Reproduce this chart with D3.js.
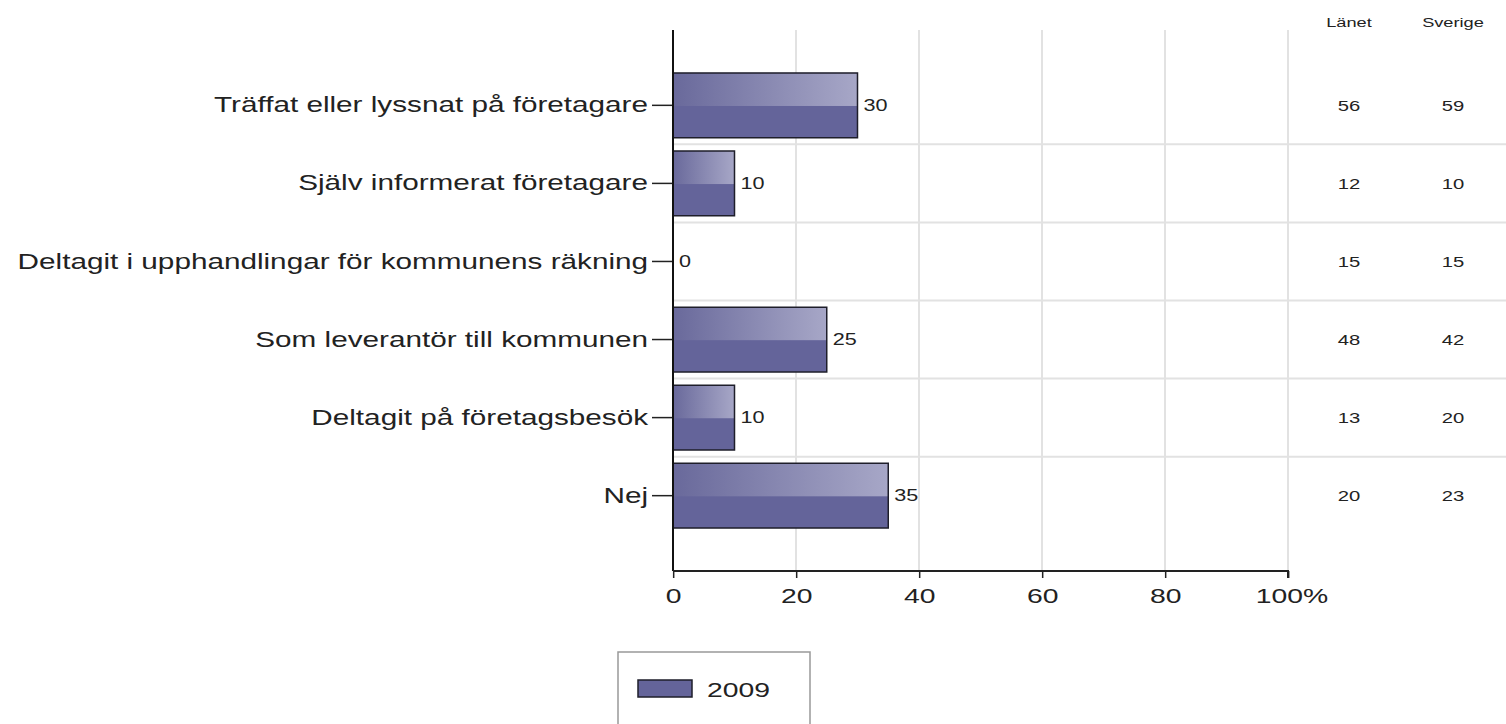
<!doctype html>
<html lang="sv">
<head>
<meta charset="utf-8">
<title>Kontakter med företagare</title>
<script src="https://d3js.org/d3.v7.min.js"></script>
<style>
  html, body { margin: 0; padding: 0; background: #fff; }
  svg { display: block; }
  svg text { font-family: "Liberation Sans", Arial, Helvetica, sans-serif; fill: #222; }
  .line { vector-effect: non-scaling-stroke; }
</style>
</head>
<body>
<div id="chart"></div>
<script>
  // data
  const categories = [
    "Träffat eller lyssnat på företagare",
    "Själv informerat företagare",
    "Deltagit i upphandlingar för kommunens räkning",
    "Som leverantör till kommunen",
    "Deltagit på företagsbesök",
    "Nej"
  ];
  const values2009 = [30, 10, 0, 25, 10, 35];
  const lanet = [56, 12, 15, 48, 13, 20];
  const sverige = [59, 10, 15, 42, 20, 23];
  const xTicks = [0, 20, 40, 60, 80, 100];
  const seriesName = "2009";

  // the reference is stretched sideways, so draw in a narrower box and stretch it
  const W = 1506, H = 724, sx = 1.35;
  const vw = W / sx;
  const px = v => v / sx;   // screen px -> viewBox x

  const svg = d3.select("#chart").append("svg")
    .attr("width", W).attr("height", H)
    .attr("viewBox", "0 0 " + vw + " " + H)
    .attr("preserveAspectRatio", "none");

  const defs = svg.append("defs");
  const grad = defs.append("linearGradient").attr("id", "shine")
    .attr("x1", "0%").attr("x2", "100%").attr("y1", "0%").attr("y2", "0%");
  grad.append("stop").attr("offset", "0%").attr("stop-color", "#69699b");
  grad.append("stop").attr("offset", "100%").attr("stop-color", "#a7a7c7");

  const x = d3.scaleLinear().domain([0, 100]).range([px(673), px(1288)]);
  const y = d3.scaleBand().domain(categories).range([30, 571])
    .paddingInner(0.17).paddingOuter(0.55);
  const gap = (y.step() - y.bandwidth()) / 2;

  // vertical grid
  svg.append("g").selectAll("line").data(xTicks.slice(1)).join("line")
    .attr("class", "line")
    .attr("x1", d => x(d)).attr("x2", d => x(d))
    .attr("y1", 30).attr("y2", 571)
    .attr("stroke", "#e2e2e2").attr("stroke-width", 2);

  // horizontal grid between rows
  svg.append("g").selectAll("line").data(categories.slice(1)).join("line")
    .attr("class", "line")
    .attr("x1", x(0)).attr("x2", vw)
    .attr("y1", d => y(d) - gap).attr("y2", d => y(d) - gap)
    .attr("stroke", "#e2e2e2").attr("stroke-width", 2);

  // bars
  const bars = svg.append("g").selectAll("g").data(categories).join("g");
  bars.append("rect")
    .attr("x", x(0)).attr("y", d => y(d))
    .attr("width", (d, i) => x(values2009[i]) - x(0))
    .attr("height", y.bandwidth())
    .attr("fill", "#64649a");
  bars.append("rect")
    .attr("x", x(0)).attr("y", d => y(d))
    .attr("width", (d, i) => x(values2009[i]) - x(0))
    .attr("height", y.bandwidth() * 0.51)
    .attr("fill", "url(#shine)");
  bars.append("rect")
    .attr("class", "line")
    .attr("x", x(0)).attr("y", d => y(d))
    .attr("width", (d, i) => x(values2009[i]) - x(0))
    .attr("height", y.bandwidth())
    .attr("fill", "none")
    .attr("stroke", (d, i) => values2009[i] > 0 ? "#1e1e2a" : "none")
    .attr("stroke-width", 1.5);

  // value labels
  svg.append("g").selectAll("text").data(categories).join("text")
    .attr("x", (d, i) => x(values2009[i]) + px(6))
    .attr("y", d => y(d) + y.bandwidth() / 2)
    .attr("dy", "0.36em")
    .attr("font-size", 16)
    .text((d, i) => values2009[i]);

  // y axis
  const yAxis = svg.append("g")
    .attr("transform", "translate(" + x(0) + ",0)")
    .call(d3.axisLeft(y).tickSize(px(21)).tickPadding(px(4)).tickSizeOuter(0));
  yAxis.select(".domain").remove();
  yAxis.selectAll(".tick line").attr("class", "line").attr("stroke", "#222").attr("stroke-width", 1.5);
  yAxis.selectAll(".tick text").attr("font-size", 22).attr("fill", "#222")
    .style("font-family", "'Liberation Sans', Arial, sans-serif");
  svg.append("line").attr("class", "line")
    .attr("x1", x(0)).attr("x2", x(0)).attr("y1", 30).attr("y2", 571)
    .attr("stroke", "#111").attr("stroke-width", 2);

  // x axis
  const xAxis = svg.append("g")
    .attr("transform", "translate(0,571)")
    .call(d3.axisBottom(x).tickValues(xTicks).tickSize(7).tickPadding(10)
      .tickFormat(d => d === 100 ? "100%" : d));
  xAxis.select(".domain").attr("class", "domain line").attr("stroke", "#222").attr("stroke-width", 2)
    .attr("d", "M" + x(0) + ",0H" + x(100) + "V7");
  xAxis.selectAll(".tick line").attr("class", "line").attr("stroke", "#222").attr("stroke-width", 1.5);
  xAxis.selectAll(".tick text").attr("font-size", 21).attr("fill", "#222")
    .style("font-family", "'Liberation Sans', Arial, sans-serif");
  xAxis.selectAll(".tick").filter(d => d === 100).select("text")
    .attr("text-anchor", "start").attr("dx", -px(33));

  // comparison columns
  const cols = [
    { name: "Länet", vals: lanet, cx: px(1349) },
    { name: "Sverige", vals: sverige, cx: px(1453) }
  ];
  cols.forEach(c => {
    svg.append("text").attr("x", c.cx).attr("y", 27)
      .attr("text-anchor", "middle").attr("font-size", 13.5).attr("fill", "#333")
      .text(c.name);
    svg.append("g").selectAll("text").data(categories).join("text")
      .attr("x", c.cx)
      .attr("y", d => y(d) + y.bandwidth() / 2)
      .attr("dy", "0.36em")
      .attr("text-anchor", "middle").attr("font-size", 15).attr("fill", "#333")
      .text((d, i) => c.vals[i]);
  });

  // legend
  const lg = svg.append("g");
  lg.append("rect").attr("class", "line")
    .attr("x", px(618)).attr("y", 652)
    .attr("width", px(810) - px(618)).attr("height", 90)
    .attr("fill", "#fff").attr("stroke", "#999").attr("stroke-width", 1.5);
  lg.append("rect").attr("class", "line")
    .attr("x", px(638)).attr("y", 680)
    .attr("width", px(692) - px(638)).attr("height", 17)
    .attr("fill", "#64649a").attr("stroke", "#1e1e2a").attr("stroke-width", 1.5);
  lg.append("text").attr("x", px(707)).attr("y", 689).attr("dy", "0.36em")
    .attr("font-size", 21).text(seriesName);
</script>
</body>
</html>
